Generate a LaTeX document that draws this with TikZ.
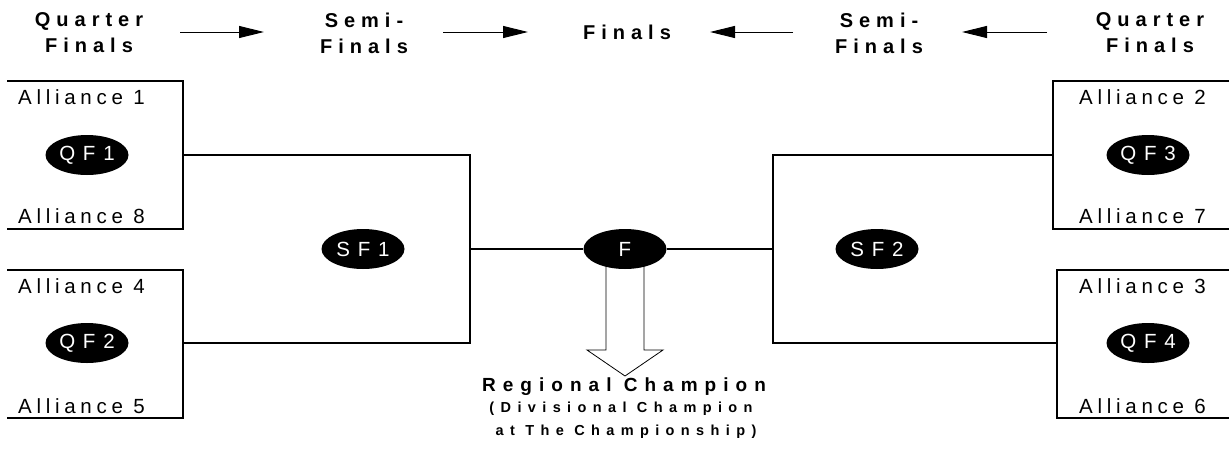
\documentclass[tikz,border=0pt]{standalone}
\usepackage{fontspec}
\setmainfont{Liberation Sans}
\newfontfamily\teamfont[LetterSpace=23]{Liberation Sans}
\newfontfamily\matchfont[LetterSpace=38]{Liberation Sans}
\newfontfamily\headfont[LetterSpace=30]{Liberation Sans}
\newfontfamily\champfont[LetterSpace=37]{Liberation Sans}
\newfontfamily\notefont[LetterSpace=44]{Liberation Sans}
\usetikzlibrary{shapes.geometric}
\usetikzlibrary {arrows.meta}
\tikzset{matchoval/.style={ellipse,fill=black,text=white,
inner sep=0pt,minimum width=83pt, minimum height=40pt,font=\matchfont\fontsize{20.5}{24}\selectfont}}
\tikzset{team/.style={anchor=base west,inner sep=0pt,font=\teamfont\fontsize{20.5}{24}\selectfont}}
\tikzset{stagehead/.style={align=center,inner sep=0pt,font=\headfont\bfseries\fontsize{20}{26}\selectfont}}
\tikzset{bracket/.style={line width=1.8pt}}
\tikzset{stagearrow/.style={line width=1pt,-{Triangle[length=25pt,width=12pt]}}}

\begin{document}
\begin{tikzpicture}[x=1pt,y=-1pt]
    \useasboundingbox (0,0) rectangle (1230,450);

    % stage headings
    \node[stagehead] (headQl) at (89,33) {Quarter\\Finals};
    \node[stagehead] (headSl) at (364,33) {Semi-\\Finals};
    \node[stagehead] (headF) at (627,32) {Finals};
    \node[stagehead] (headSr) at (879,33) {Semi-\\Finals};
    \node[stagehead] (headQr) at (1150,33) {Quarter\\Finals};

    \coordinate (arrAs) at (180,32);
    \coordinate (arrAe) at (264,32);
    \draw[stagearrow] (arrAs) -- (arrAe);
    \coordinate (arrBs) at (443,32);
    \coordinate (arrBe) at (528,32);
    \draw[stagearrow] (arrBs) -- (arrBe);
    \coordinate (arrCs) at (793,32);
    \coordinate (arrCe) at (710,32);
    \draw[stagearrow] (arrCs) -- (arrCe);
    \coordinate (arrDs) at (1047,32);
    \coordinate (arrDe) at (962,32);
    \draw[stagearrow] (arrDs) -- (arrDe);

    % left half
    \coordinate (qfAnw) at (7,81);
    \coordinate (qfAsw) at (7,229);
    \coordinate (qfAout) at (183,155);
    \coordinate (qfBnw) at (7,270);
    \coordinate (qfBsw) at (7,418);
    \coordinate (qfBout) at (183,343);
    \coordinate (sfAout) at (470,249);
    \draw[bracket] (qfAnw) -| (qfAout) |- (qfAsw);
    \draw[bracket] (qfBnw) -| (qfBout) |- (qfBsw);
    \draw[bracket] (qfAout) -| (sfAout) |- (qfBout);

    % right half
    \coordinate (qfCne) at (1229,81);
    \coordinate (qfCse) at (1229,229);
    \coordinate (qfCout) at (1053,155);
    \coordinate (qfDne) at (1229,270);
    \coordinate (qfDse) at (1229,418);
    \coordinate (qfDout) at (1057,343);
    \coordinate (sfBout) at (773,249);
    \draw[bracket] (qfCne) -| (qfCout) |- (qfCse);
    \draw[bracket] (qfDne) -| (qfDout) |- (qfDse);
    \draw[bracket] (qfCout) -| (sfBout) |- (qfDout);

    % champion arrow
    \coordinate (champtop) at (625,262);
    \draw[line width=0.8pt] ([xshift=-19pt]champtop) -- ++(0,88) -- ++(-19,0)
        -- (625,376) -- (663,350) -- ++(-19,0) -- ([xshift=19pt]champtop);

    \node[matchoval] (qfA) at (87,155) {QF1};
    \node[matchoval] (qfB) at (87,343) {QF2};
    \node[matchoval] (qfC) at (1148,155) {QF3};
    \node[matchoval] (qfD) at (1148,343) {QF4};
    \node[matchoval] (sfA) at (363,249) {SF1};
    \node[matchoval] (sfB) at (877,249) {SF2};
    \node[matchoval] (fin) at (625,249) {F};
    \draw[bracket] (sfAout) -- (fin);
    \draw[bracket] (fin) -- (sfBout);

    \node[team] (allA) at (18,104) {Alliance 1};
    \node[team] (allH) at (18,223) {Alliance 8};
    \node[team] (allD) at (18,293) {Alliance 4};
    \node[team] (allE) at (18,413) {Alliance 5};
    \node[team] (allB) at (1079,104) {Alliance 2};
    \node[team] (allG) at (1079,223) {Alliance 7};
    \node[team] (allC) at (1079,293) {Alliance 3};
    \node[team] (allF) at (1079,413) {Alliance 6};

    \node[anchor=base,inner sep=0pt,font=\champfont\bfseries\fontsize{19}{22}\selectfont] (champ) at (624,391) {Regional Champion};
    \node[anchor=base,inner sep=0pt,font=\notefont\bfseries\fontsize{14.5}{17}\selectfont] (noteA) at (621,412) {(Divisional Champion};
    \node[anchor=base,inner sep=0pt,font=\notefont\bfseries\fontsize{14.5}{17}\selectfont] (noteB) at (626,435) {at The Championship)};

\end{tikzpicture}
\end{document}
